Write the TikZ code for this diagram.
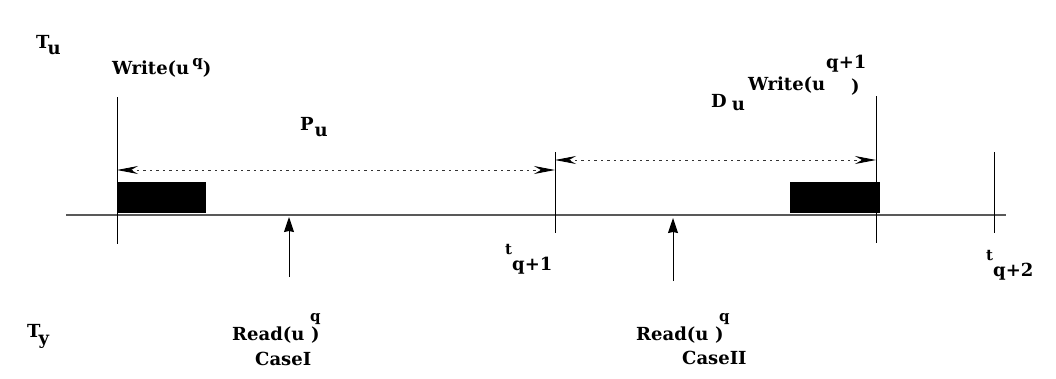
\documentclass[tikz,border=0pt]{standalone}
\usepackage{fontspec}
\setmainfont{DejaVu Serif}
\usetikzlibrary{arrows.meta}
\begin{document}
\begin{tikzpicture}[x=1pt,y=-1pt,
  lbl/.style={inner sep=0pt, anchor=base west, font=\fontsize{18}{18}\selectfont\bfseries},
  sml/.style={inner sep=0pt, anchor=base west, font=\fontsize{15}{15}\selectfont\bfseries},
  vline/.style={line width=1pt, black},
  axisline/.style={line width=1.5pt, black!65},
  spanarrow/.style={line width=0.9pt, black!80, dash pattern=on 2.5pt off 4pt,
     {Stealth[length=21pt,width=8pt,inset=7pt,black]}-{Stealth[length=21pt,width=8pt,inset=7pt,black]}},
  uparrow/.style={line width=1pt, -{Stealth[length=15pt,width=10pt,inset=1pt]}},
  blk/.style={fill=black, draw=none, inner sep=0pt, anchor=north west}]
\useasboundingbox (0,0) rectangle (1056,378);
% axis
\coordinate (axL) at (66,215);
\coordinate (axR) at (1006,215);
\draw[axisline] (axL) -- (axR);
% blocks
\node[blk, minimum width=89pt, minimum height=31pt] (blk1) at (117,182) {};
\node[blk, minimum width=90pt, minimum height=31pt] (blk2) at (790,182) {};
% vertical lines
\coordinate (v1t) at (117,97);  \coordinate (v1b) at (117,244);
\coordinate (v2t) at (555,152); \coordinate (v2b) at (555,233);
\coordinate (v3t) at (876,96);  \coordinate (v3b) at (876,243);
\coordinate (v4t) at (994,152); \coordinate (v4b) at (994,233);
\draw[vline] (v1t) -- (v1b);
\draw[vline] (v2t) -- (v2b);
\draw[vline] (v3t) -- (v3b);
\draw[vline] (v4t) -- (v4b);
% span arrows
\coordinate (p1) at (117,170); \coordinate (p2) at (555,170);
\coordinate (d1) at (555,160); \coordinate (d2) at (876,160);
\draw[spanarrow] (p1) -- (p2);
\draw[spanarrow] (d1) -- (d2);
% up arrows
\coordinate (r1b) at (289,277); \coordinate (r1t) at (289,217);
\coordinate (r2b) at (673,281); \coordinate (r2t) at (673,218);
\draw[uparrow] (r1b) -- (r1t);
\draw[uparrow] (r2b) -- (r2t);
% labels
\node[lbl] (Tu) at (36,48) {T\kern-2pt\raisebox{-6pt}{u}};
\node[lbl] (Ty) at (27,337) {T\kern-2pt\raisebox{-7pt}{y}};
\node[lbl] (w1) at (112,74) {Write(u\kern3pt\raisebox{8pt}{\fontsize{15}{15}\selectfont q})};
\node[lbl] (Pu) at (300,130) {P\kern1pt\raisebox{-6pt}{u}};
\node[lbl] (Du) at (711,107) {D\kern5pt\raisebox{-3pt}{u}};
\node[lbl] (w2) at (748,90) {Write(u};
\node[lbl] (w2s) at (826,68) {q+1};
\node[lbl] (w2p) at (851,92) {)};
\node[sml] (t1) at (505,254) {t};
\node[lbl] (t1s) at (512,270) {q+1};
\node[sml] (t2) at (986,260) {t};
\node[lbl] (t2s) at (993,276) {q+2};
\node[lbl] (rd1) at (232,340) {Read(u};
\node[lbl] (rd1p) at (311,340) {)};
\node[sml] (rd1s) at (310,321) {q};
\node[lbl] (rd2) at (636,340) {Read(u};
\node[lbl] (rd2p) at (715,340) {)};
\node[sml] (rd2s) at (719,321) {q};
\node[lbl] (c1) at (255,365) {CaseI};
\node[lbl] (c2) at (682,364) {CaseII};
\end{tikzpicture}
\end{document}
